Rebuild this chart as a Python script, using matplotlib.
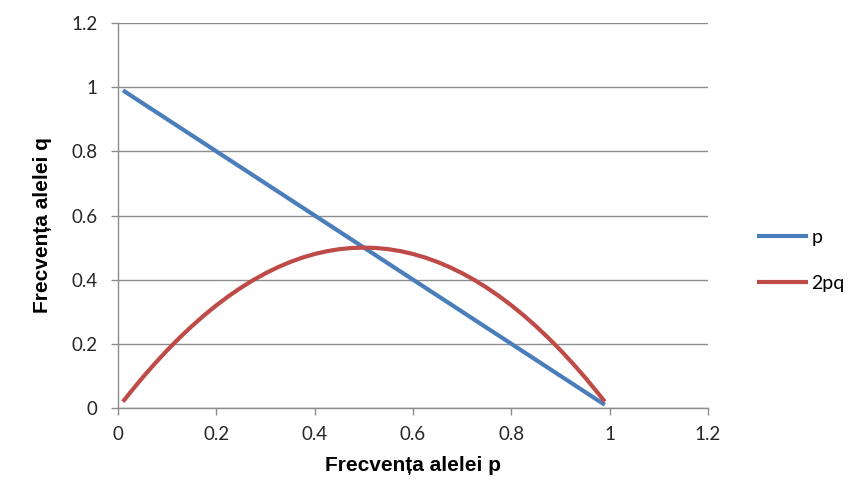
import matplotlib
matplotlib.use("Agg")
import matplotlib.pyplot as plt

# Allele frequency p, the complementary frequency q and the heterozygote share 2pq
p_vals = [0.01, 0.025, 0.05, 0.075, 0.10, 0.125, 0.15, 0.175, 0.20, 0.225,
          0.25, 0.275, 0.30, 0.325, 0.35, 0.375, 0.40, 0.425, 0.45, 0.475,
          0.50, 0.525, 0.55, 0.575, 0.60, 0.625, 0.65, 0.675, 0.70, 0.725,
          0.75, 0.775, 0.80, 0.825, 0.85, 0.875, 0.90, 0.925, 0.95, 0.975, 0.99]
q_vals = [0.99, 0.975, 0.95, 0.925, 0.90, 0.875, 0.85, 0.825, 0.80, 0.775,
          0.75, 0.725, 0.70, 0.675, 0.65, 0.625, 0.60, 0.575, 0.55, 0.525,
          0.50, 0.475, 0.45, 0.425, 0.40, 0.375, 0.35, 0.325, 0.30, 0.275,
          0.25, 0.225, 0.20, 0.175, 0.15, 0.125, 0.10, 0.075, 0.05, 0.025, 0.01]
het_vals = [0.0198, 0.04875, 0.095, 0.13875, 0.18, 0.21875, 0.255, 0.28875, 0.32, 0.34875,
            0.375, 0.39875, 0.42, 0.43875, 0.455, 0.46875, 0.48, 0.48875, 0.495, 0.49875,
            0.50, 0.49875, 0.495, 0.48875, 0.48, 0.46875, 0.455, 0.43875, 0.42, 0.39875,
            0.375, 0.34875, 0.32, 0.28875, 0.255, 0.21875, 0.18, 0.13875, 0.095, 0.04875, 0.0198]

series_names = ["p", "2pq"]
x_ticks = [0, 0.2, 0.4, 0.6, 0.8, 1, 1.2]
y_ticks = [0, 0.2, 0.4, 0.6, 0.8, 1, 1.2]
x_tick_labels = ["0", "0.2", "0.4", "0.6", "0.8", "1", "1.2"]
y_tick_labels = ["0", "0.2", "0.4", "0.6", "0.8", "1", "1.2"]

blue = "#4A7EBB"
red = "#BE4B48"
grid_gray = "#8C8C8C"

fig = plt.figure(figsize=(8.51, 4.84), dpi=100)
ax = fig.add_axes([0.1387, 0.157, 0.6933, 0.7955])

ax.plot(p_vals, q_vals, color=blue, lw=3.0, label=series_names[0],
        solid_capstyle="butt", solid_joinstyle="round", zorder=3)
ax.plot(p_vals, het_vals, color=red, lw=3.0, label=series_names[1],
        solid_capstyle="butt", solid_joinstyle="round", zorder=3)

ax.set_xlim(0, 1.2)
ax.set_ylim(0, 1.2)
ax.set_xticks(x_ticks)
ax.set_xticklabels(x_tick_labels)
ax.set_yticks(y_ticks)
ax.set_yticklabels(y_tick_labels)

ax.yaxis.grid(True, color=grid_gray, lw=1.0)
ax.set_axisbelow(True)
for side in ["top", "right"]:
    ax.spines[side].set_visible(False)
for side in ["left", "bottom"]:
    ax.spines[side].set_color(grid_gray)
    ax.spines[side].set_linewidth(1.0)

ax.tick_params(axis="both", direction="out", length=5, width=1.0,
               color=grid_gray, labelsize=13.5, labelcolor="#262626")
ax.tick_params(axis="y", pad=10)
ax.tick_params(axis="x", pad=8)
for lab in ax.get_xticklabels() + ax.get_yticklabels():
    lab.set_family("Lato")

ax.set_xlabel("Frecvența alelei p", fontsize=15, fontweight="bold",
              family="Liberation Sans", labelpad=9)
ax.set_ylabel("Frecvența alelei q", fontsize=15, fontweight="bold",
              family="Liberation Sans")
ax.yaxis.set_label_coords(-0.112, 0.475)

fig.legend(loc="center left", bbox_to_anchor=(0.8895, 0.462),
           frameon=False, borderpad=0, borderaxespad=0,
           handlelength=2.6, handletextpad=0.2,
           labelspacing=1.5, prop={"family": "Lato", "size": 14})

fig.savefig("out.png", dpi=100, facecolor="white")
